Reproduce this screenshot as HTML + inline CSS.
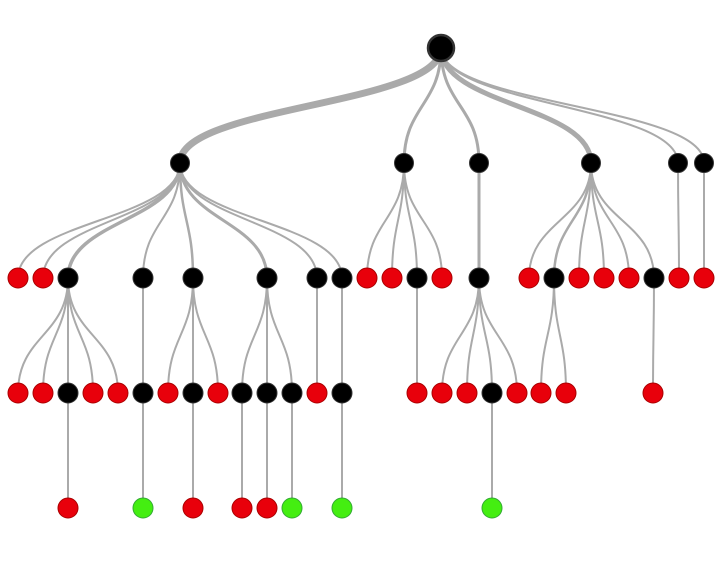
<!DOCTYPE html>
<html><head><style>html,body{margin:0;padding:0;background:#fff}svg{display:block}</style></head>
<body>
<svg id="s" width="724" height="571" xmlns="http://www.w3.org/2000/svg"></svg>
<script>
const Y=[48,163,278,393,508];
const R='#e8000b',B='#000',G='#44ee11';
// [x, level, parentIndex, color, edgeWidth]
const N=[];
function add(x,l,p,c,w){N.push({x,l,p,c,w});return N.length-1;}
const root=add(441,0,-1,B,0);
const a=add(180,1,root,B,7),b=add(404,1,root,B,3),c=add(479,1,root,B,3),d=add(591,1,root,B,5),e=add(678,1,root,B,2),f=add(704,1,root,B,2);
add(18,2,a,R,2);add(43,2,a,R,2);const a68=add(68,2,a,B,3.5);const a143=add(143,2,a,B,2);const a193=add(193,2,a,B,2.5);const a267=add(267,2,a,B,3);const a317=add(317,2,a,B,2);const a342=add(342,2,a,B,2);
add(367,2,b,R,2);add(392,2,b,R,2);const b417=add(417,2,b,B,2);add(442,2,b,R,2);
const c479=add(479,2,c,B,3);
add(529,2,d,R,2);const d554=add(554,2,d,B,2.5);add(579,2,d,R,2);add(604,2,d,R,2);add(629,2,d,R,2);const d654=add(654,2,d,B,2);
add(679,2,e,R,2);add(704,2,f,R,2);
add(18,3,a68,R,2);add(43,3,a68,R,2);const l68=add(68,3,a68,B,2);add(93,3,a68,R,2);add(118,3,a68,R,2);
const l143=add(143,3,a143,B,2);
add(168,3,a193,R,2);const l193=add(193,3,a193,B,2);add(218,3,a193,R,2);
const l242=add(242,3,a267,B,2);const l267=add(267,3,a267,B,2);const l292=add(292,3,a267,B,2);
add(317,3,a317,R,2);const l342=add(342,3,a342,B,2);
add(417,3,b417,R,2);
add(442,3,c479,R,2);add(467,3,c479,R,2);const l492=add(492,3,c479,B,2);add(517,3,c479,R,2);
add(541,3,d554,R,2);add(566,3,d554,R,2);
add(653,3,d654,R,2);
add(68,4,l68,R,2);add(143,4,l143,G,2);add(193,4,l193,R,2);add(242,4,l242,R,2);add(267,4,l267,R,2);add(292,4,l292,G,2);add(342,4,l342,G,2);add(492,4,l492,G,2);
let h='';
N.forEach(n=>{if(n.p<0)return;const p=N[n.p];const y1=Y[p.l],y2=Y[n.l],m=(y1+y2)/2;
h+=`<path d="M${p.x},${y1}C${p.x},${m} ${n.x},${m} ${n.x},${y2}" fill="none" stroke="#aaa" stroke-width="${n.w}"/>`;});
N.forEach(n=>{const r=n.l==0?13:(n.l==1?9.5:10);const st=n.c==R?'#a00':(n.c==G?'#3a3':'#333');
h+=`<circle cx="${n.x}" cy="${Y[n.l]}" r="${r}" fill="${n.c}" stroke="${st}" stroke-width="${n.l==0?2.5:1}"/>`;});
document.getElementById('s').innerHTML=h;
</script>
</body></html>
